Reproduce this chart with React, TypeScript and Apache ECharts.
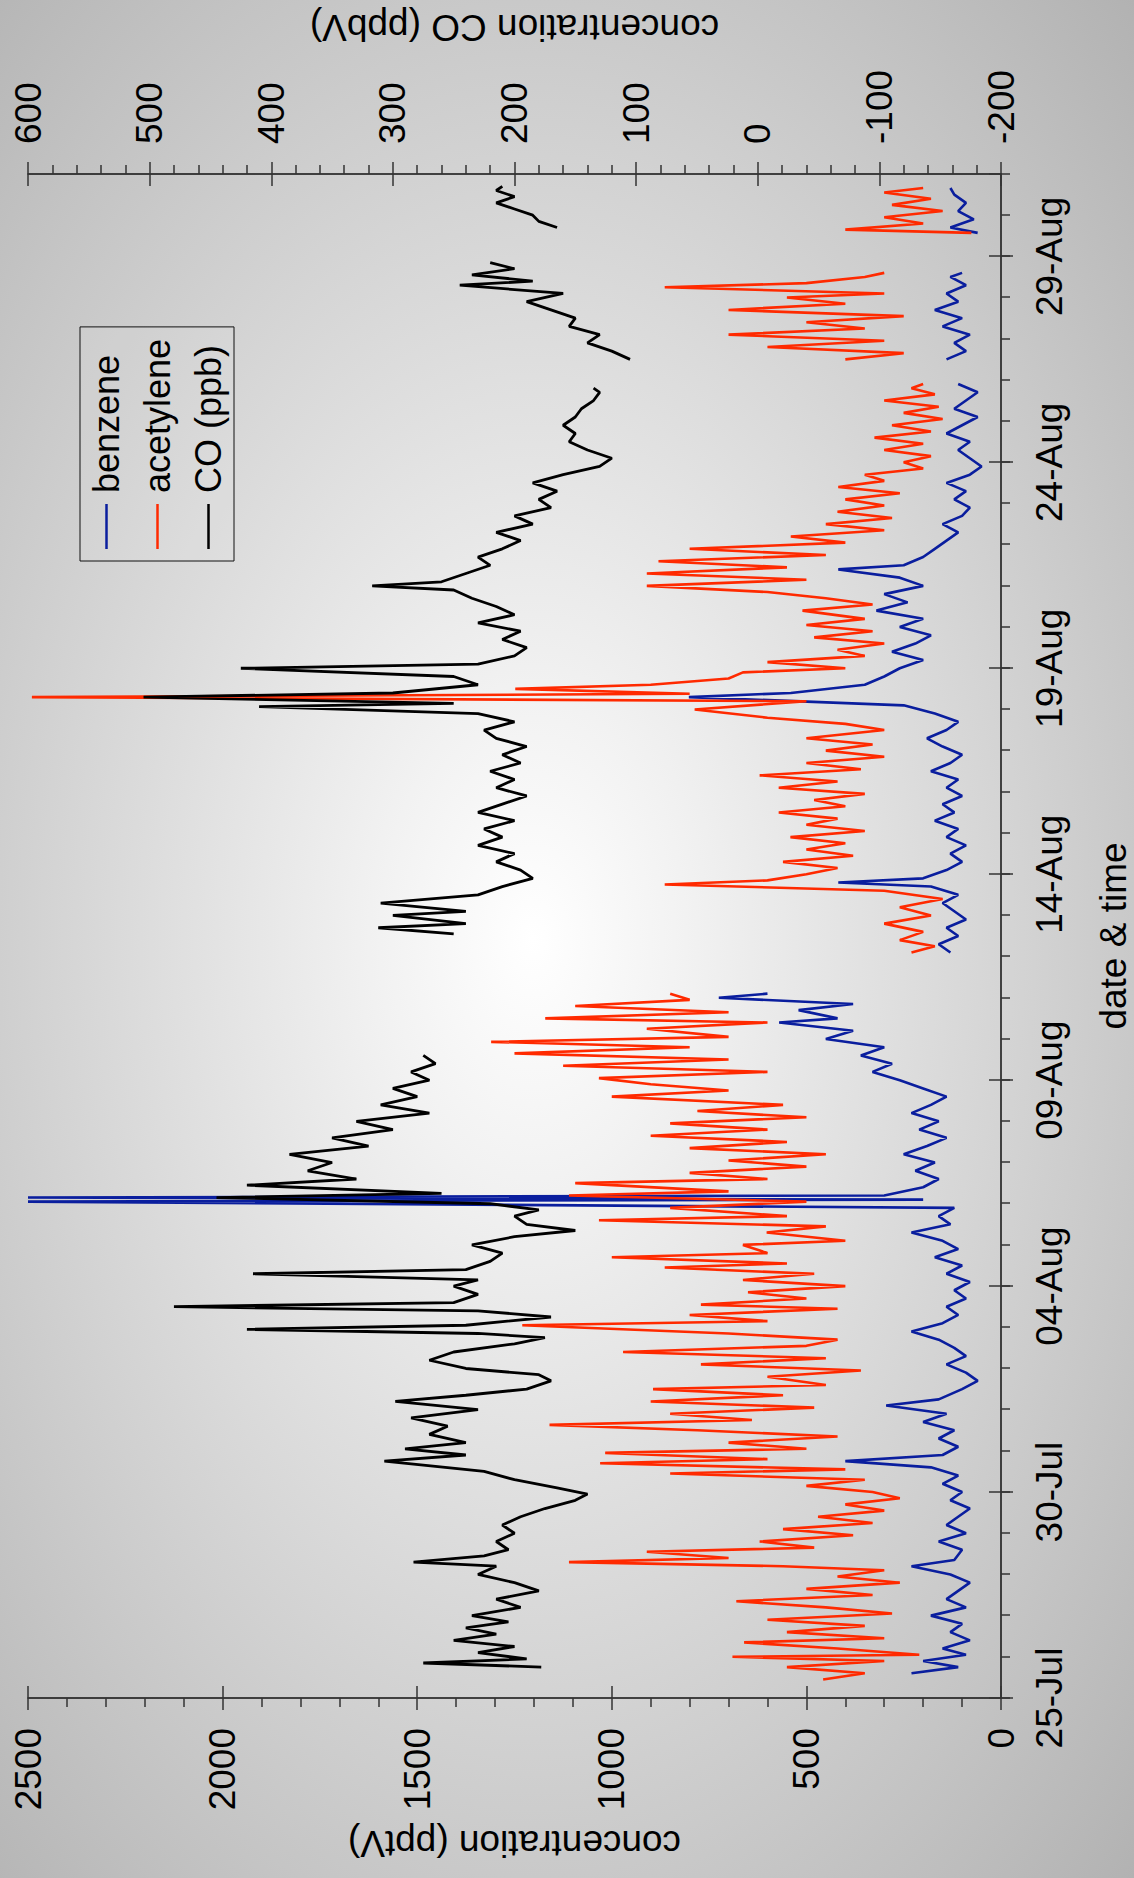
import React, { useEffect, useRef } from "react";
import * as echarts from "echarts";

// x values are days since 25-Jul 00:00
const dateLabels = ["25-Jul", "30-Jul", "04-Aug", "09-Aug", "14-Aug", "19-Aug", "24-Aug", "29-Aug"];
const seriesNames = ["benzene", "acetylene", "CO (ppb)"];

const benzene: [number, number | null][] = [
  [0.6, 230], [0.75, 110], [0.9, 200], [1.05, 90], [1.2, 150], [1.4, 80], [1.6, 130], [1.8, 100], [2.0, 180], [2.2, 90],
  [2.4, 140], [2.6, 110], [2.8, 80], [3.0, 130], [3.2, 230], [3.35, 120], [3.6, 100], [3.8, 160], [4.0, 90], [4.2, 140],
  [4.4, 110], [4.6, 80], [4.8, 130], [5.0, 100], [5.2, 150], [5.4, 110], [5.6, 180], [5.75, 400], [5.9, 150], [6.1, 110],
  [6.3, 160], [6.5, 120], [6.7, 200], [6.9, 140], [7.1, 295], [7.25, 160], [7.5, 100], [7.7, 60], [7.9, 90], [8.1, 140],
  [8.3, 90], [8.5, 120], [8.7, 160], [8.9, 230], [9.1, 150], [9.3, 110], [9.5, 140], [9.7, 90], [9.9, 120], [10.1, 80],
  [10.3, 140], [10.5, 100], [10.7, 170], [10.9, 110], [11.1, 150], [11.3, 230], [11.5, 130], [11.7, 160], [11.9, 120],
  [12.05, 2500], [12.1, 200], [12.15, 2500], [12.2, 300], [12.4, 200], [12.6, 160], [12.8, 220], [13.0, 170], [13.2, 250],
  [13.4, 190], [13.6, 140], [13.8, 210], [14.0, 160], [14.2, 230], [14.4, 180], [14.6, 140], [14.8, 200], [15.0, 260],
  [15.2, 330], [15.4, 280], [15.6, 360], [15.8, 300], [16.0, 450], [16.2, 380], [16.4, 570], [16.5, 420], [16.7, 520],
  [16.85, 380], [17.0, 725], [17.1, 600],
  [17.6, null],
  [18.1, 130], [18.3, 160], [18.5, 110], [18.7, 140], [18.9, 90], [19.1, 120], [19.3, 150], [19.5, 110], [19.7, 180],
  [19.8, 418], [19.9, 200], [20.1, 140], [20.3, 100], [20.5, 130], [20.7, 90], [20.9, 140], [21.1, 110], [21.3, 170],
  [21.5, 120], [21.7, 150], [21.9, 100], [22.1, 140], [22.3, 110], [22.5, 180], [22.7, 130], [22.9, 100], [23.1, 150],
  [23.3, 190], [23.5, 140], [23.7, 110], [23.9, 170], [24.1, 250], [24.3, 802], [24.4, 540], [24.6, 350], [24.8, 300],
  [25.0, 260], [25.2, 200], [25.4, 280], [25.6, 220], [25.8, 180], [26.0, 260], [26.2, 200], [26.4, 320], [26.6, 240],
  [26.8, 300], [27.0, 200], [27.2, 260], [27.4, 418], [27.5, 250], [27.7, 200], [27.9, 170], [28.1, 140], [28.3, 110],
  [28.5, 150], [28.7, 100], [28.9, 80], [29.1, 120], [29.3, 90], [29.5, 140], [29.7, 80], [29.9, 50], [30.1, 80],
  [30.3, 110], [30.5, 80], [30.7, 140], [30.9, 100], [31.1, 60], [31.3, 120], [31.5, 90], [31.7, 60], [31.9, 110],
  [32.2, null],
  [32.5, 140], [32.7, 90], [32.9, 120], [33.1, 80], [33.3, 150], [33.5, 100], [33.7, 170], [33.9, 110], [34.1, 140],
  [34.3, 90], [34.5, 130], [34.6, 100],
  [35.0, null],
  [35.57, 60], [35.7, 130], [35.9, 70], [36.1, 110], [36.3, 90], [36.5, 120], [36.66, 130],
];

const acetylene: [number, number | null][] = [
  [0.45, 457], [0.6, 350], [0.75, 550], [0.9, 300], [1.0, 690], [1.05, 210], [1.2, 420], [1.35, 660], [1.45, 300],
  [1.6, 550], [1.75, 350], [1.9, 600], [2.05, 280], [2.2, 450], [2.35, 680], [2.5, 330], [2.65, 500], [2.8, 260],
  [2.95, 420], [3.1, 300], [3.2, 560], [3.3, 1110], [3.4, 700], [3.55, 910], [3.65, 480], [3.8, 620], [3.95, 380],
  [4.1, 560], [4.25, 330], [4.4, 470], [4.55, 300], [4.7, 400], [4.85, 260], [5.0, 330], [5.15, 500], [5.3, 350],
  [5.45, 850], [5.55, 400], [5.7, 1030], [5.8, 600], [5.95, 1017], [6.05, 500], [6.2, 700], [6.35, 420], [6.5, 780],
  [6.63, 1160], [6.75, 640], [6.9, 850], [7.05, 480], [7.2, 900], [7.35, 560], [7.5, 894], [7.6, 450], [7.8, 600],
  [7.95, 360], [8.1, 771], [8.25, 450], [8.4, 971], [8.55, 500], [8.7, 420], [8.85, 700], [9.05, 1230], [9.15, 600],
  [9.3, 800], [9.45, 420], [9.55, 771], [9.7, 500], [9.85, 650], [10.0, 400], [10.15, 663], [10.3, 480], [10.45, 864],
  [10.55, 550], [10.7, 1000], [10.8, 600], [11.0, 663], [11.1, 400], [11.3, 602], [11.45, 450], [11.6, 1033], [11.7, 550],
  [11.9, 850], [12.05, 500], [12.2, 1110], [12.3, 700], [12.5, 1094], [12.6, 600], [12.75, 800], [12.9, 500], [13.05, 700],
  [13.2, 450], [13.35, 800], [13.5, 550], [13.65, 900], [13.8, 600], [13.95, 850], [14.1, 500], [14.25, 780], [14.4, 560],
  [14.6, 1000], [14.75, 700], [14.9, 900], [15.05, 1033], [15.2, 600], [15.35, 1125], [15.5, 700], [15.65, 1250],
  [15.8, 800], [15.93, 1310], [16.05, 700], [16.25, 910], [16.4, 600], [16.5, 1171], [16.65, 700], [16.8, 1094],
  [16.95, 800], [17.1, 850],
  [17.6, null],
  [18.1, 230], [18.25, 170], [18.4, 260], [18.6, 200], [18.8, 300], [19.0, 180], [19.2, 260], [19.4, 150], [19.6, 300],
  [19.75, 864], [19.85, 600], [20.0, 500], [20.15, 420], [20.3, 560], [20.45, 380], [20.6, 500], [20.75, 400], [20.9, 541],
  [21.05, 350], [21.2, 500], [21.35, 420], [21.5, 571], [21.65, 400], [21.8, 480], [21.95, 350], [22.1, 571], [22.25, 420],
  [22.4, 620], [22.55, 360], [22.7, 500], [22.85, 300], [23.0, 450], [23.15, 330], [23.3, 500], [23.5, 300], [23.65, 400],
  [23.8, 600], [24.0, 787], [24.2, 500], [24.3, 2490], [24.38, 800], [24.5, 1248], [24.6, 900], [24.75, 700], [24.9, 663],
  [25.0, 400], [25.15, 600], [25.3, 350], [25.45, 420], [25.6, 300], [25.75, 480], [25.9, 330], [26.05, 500], [26.2, 350],
  [26.4, 510], [26.55, 330], [26.7, 450], [26.85, 600], [27.0, 910], [27.15, 500], [27.3, 910], [27.45, 550], [27.6, 880],
  [27.75, 450], [27.9, 800], [28.05, 400], [28.2, 540], [28.35, 300], [28.5, 450], [28.65, 280], [28.8, 420], [28.95, 300],
  [29.1, 400], [29.25, 260], [29.4, 418], [29.55, 300], [29.7, 350], [29.85, 200], [30.0, 250], [30.15, 180], [30.3, 300],
  [30.45, 200], [30.6, 325], [30.75, 180], [30.9, 280], [31.05, 150], [31.2, 250], [31.35, 160], [31.5, 300], [31.65, 170],
  [31.8, 230], [31.9, 200],
  [32.2, null],
  [32.5, 400], [32.65, 250], [32.8, 600], [32.95, 300], [33.1, 700], [33.25, 350], [33.4, 500], [33.55, 250], [33.7, 700],
  [33.85, 400], [34.0, 550], [34.1, 300], [34.25, 864], [34.35, 500], [34.5, 350], [34.6, 300],
  [35.0, null],
  [35.57, 76], [35.65, 400], [35.8, 200], [35.95, 300], [36.1, 150], [36.25, 280], [36.4, 180], [36.55, 300], [36.66, 200],
];

const carbonMonoxide: [number, number | null][] = [
  [0.75, 178], [0.85, 275], [0.95, 190], [1.1, 230], [1.25, 200], [1.4, 250], [1.55, 215], [1.7, 240], [1.85, 205],
  [2.0, 235], [2.2, 195], [2.4, 215], [2.6, 180], [2.8, 200], [3.0, 230], [3.2, 215], [3.3, 283], [3.45, 225], [3.6, 205],
  [3.8, 215], [4.0, 200], [4.2, 210], [4.4, 195], [4.6, 175], [4.8, 150], [4.95, 140], [5.1, 165], [5.3, 200], [5.5, 225],
  [5.75, 307], [5.9, 240], [6.05, 290], [6.2, 240], [6.4, 270], [6.6, 255], [6.8, 285], [7.0, 230], [7.2, 298], [7.35, 240],
  [7.5, 190], [7.7, 170], [7.85, 180], [8.0, 240], [8.2, 270], [8.4, 250], [8.6, 200], [8.75, 175], [8.85, 230],
  [8.95, 420], [9.05, 240], [9.25, 170], [9.4, 230], [9.5, 480], [9.6, 250], [9.8, 230], [10.0, 250], [10.15, 230],
  [10.3, 415], [10.4, 240], [10.6, 220], [10.8, 210], [11.0, 235], [11.2, 200], [11.35, 150], [11.5, 190], [11.7, 200],
  [11.85, 180], [12.0, 220], [12.15, 445], [12.25, 260], [12.45, 420], [12.6, 330],
  [12.8, 370], [13.0, 350], [13.2, 385], [13.4, 320], [13.6, 350], [13.8, 300], [14.0, 330], [14.2, 270], [14.4, 310],
  [14.6, 280], [14.8, 300], [15.0, 270], [15.2, 285], [15.4, 265], [15.6, 275],
  [17.0, null],
  [18.55, 250], [18.7, 312], [18.8, 240], [19.0, 300], [19.1, 240], [19.3, 310], [19.5, 230], [19.7, 210], [19.9, 185],
  [20.1, 195], [20.3, 215], [20.5, 200], [20.7, 230], [20.9, 210], [21.1, 225], [21.3, 200], [21.5, 230], [21.7, 210],
  [21.9, 190], [22.1, 215], [22.3, 200], [22.5, 220], [22.7, 195], [22.9, 210], [23.1, 190], [23.3, 215], [23.5, 225],
  [23.7, 200], [23.9, 230], [24.07, 410], [24.15, 250], [24.3, 505], [24.4, 300], [24.6, 230], [24.8, 250], [25.0, 425],
  [25.1, 230], [25.3, 200], [25.5, 190], [25.7, 210], [25.9, 195], [26.1, 230], [26.3, 200], [26.5, 215], [26.7, 235],
  [26.9, 250], [27.0, 317], [27.1, 260], [27.3, 240], [27.5, 220], [27.7, 230], [27.9, 210], [28.1, 195], [28.3, 215],
  [28.5, 185], [28.7, 200], [28.9, 170], [29.1, 180], [29.3, 165], [29.5, 185], [29.7, 160], [29.9, 130], [30.1, 120],
  [30.3, 140], [30.5, 155], [30.7, 150], [30.9, 160], [31.1, 150], [31.3, 145], [31.5, 135], [31.7, 130], [31.8, 135],
  [32.1, null],
  [32.5, 105], [32.7, 120], [32.9, 140], [33.1, 130], [33.3, 155], [33.5, 150], [33.7, 170], [33.9, 190], [34.1, 160],
  [34.3, 245], [34.4, 185], [34.55, 235], [34.7, 200], [34.85, 220],
  [35.2, null],
  [35.7, 165], [35.85, 180], [36.0, 185], [36.15, 200], [36.3, 215], [36.45, 200], [36.6, 215], [36.7, 210],
];

const FONT = "'Liberation Sans', Arial, Helvetica, sans-serif";
const BLUE = "#0a1e9e";
const RED = "#ff2a00";
const BLACK = "#000000";
const axisLineStyle = { color: "#111", width: 1.5 };
const tickStyle = { color: "#333", width: 1.5 };
const labelStyle = { fontSize: 37, color: "#000", fontFamily: FONT };
const plainNumber = (v: number) => String(v);

function dupAxis(extra: any) {
  return {
    type: "value",
    axisLine: { show: false, onZero: false },
    axisLabel: { show: false },
    splitLine: { show: false },
    ...extra,
  };
}

function buildOption(): any {
  return {
    animation: false,
    backgroundColor: "transparent",
    textStyle: { fontFamily: FONT },
    grid: { left: 180, top: 28, width: 1524, height: 973, containLabel: false, outerBoundsMode: "none" },
    legend: {
      orient: "vertical",
      left: 1317,
      top: 80,
      data: seriesNames,
      icon: "rect",
      itemWidth: 45,
      itemHeight: 2.5,
      itemGap: 0,
      padding: [1, 12, 0, 12],
      borderColor: "#111",
      borderWidth: 1,
      backgroundColor: "rgba(255,255,255,0.08)",
      textStyle: { fontSize: 36, color: "#000", fontFamily: FONT, lineHeight: 51, padding: [0, 0, 0, 6] },
    },
    xAxis: [
      {
        type: "value",
        position: "bottom",
        min: 0,
        max: 37,
        interval: 5,
        axisLine: { show: true, onZero: false, lineStyle: axisLineStyle },
        axisTick: { show: true, length: 12, lineStyle: tickStyle },
        axisLabel: {
          ...labelStyle,
          margin: 30,
          showMaxLabel: false,
          formatter: (v: number) => dateLabels[Math.round(v / 5)] ?? "",
        },
        splitLine: { show: false },
        name: "date & time",
        nameLocation: "middle",
        nameGap: 94,
        nameTextStyle: labelStyle,
      },
      dupAxis({ position: "bottom", min: 0, max: 37, interval: 5, axisTick: { show: true, inside: true, length: 12, lineStyle: tickStyle } }),
      dupAxis({ position: "bottom", min: 0, max: 37, interval: 1, axisTick: { show: true, length: 9, lineStyle: tickStyle } }),
    ],
    yAxis: [
      {
        type: "value",
        position: "left",
        min: 0,
        max: 2500,
        interval: 500,
        axisLine: { show: true, onZero: false, lineStyle: axisLineStyle },
        axisTick: { show: true, length: 12, lineStyle: tickStyle },
        minorTick: { show: true, splitNumber: 5, length: 9, lineStyle: tickStyle },
        axisLabel: { ...labelStyle, margin: 30, formatter: plainNumber },
        splitLine: { show: false },
        minorSplitLine: { show: false },
        name: "concentration (pptV)",
        nameLocation: "middle",
        nameRotate: 90,
        nameGap: 127,
        nameTextStyle: labelStyle,
      },
      {
        type: "value",
        position: "right",
        min: -200,
        max: 600,
        interval: 100,
        axisLine: { show: true, onZero: false, lineStyle: axisLineStyle },
        axisTick: { show: true, length: 12, lineStyle: tickStyle },
        minorTick: { show: true, splitNumber: 5, length: 9, lineStyle: tickStyle },
        axisLabel: { ...labelStyle, margin: 30, formatter: plainNumber },
        splitLine: { show: false },
        minorSplitLine: { show: false },
        name: "concentration CO (ppbV)",
        nameLocation: "middle",
        nameRotate: 90,
        nameGap: 128,
        nameTextStyle: labelStyle,
      },
      dupAxis({ position: "left", min: 0, max: 2500, interval: 500, axisTick: { show: true, inside: true, length: 12, lineStyle: tickStyle } }),
      dupAxis({ position: "right", min: -200, max: 600, interval: 100, axisTick: { show: true, inside: true, length: 12, lineStyle: tickStyle } }),
    ],
    series: [
      {
        name: seriesNames[0],
        type: "line",
        xAxisIndex: 0,
        yAxisIndex: 0,
        data: benzene,
        symbol: "none",
        showSymbol: false,
        connectNulls: false,
        lineStyle: { color: BLUE, width: 2.6 },
        itemStyle: { color: BLUE },
      },
      {
        name: seriesNames[1],
        type: "line",
        xAxisIndex: 0,
        yAxisIndex: 0,
        data: acetylene,
        symbol: "none",
        showSymbol: false,
        connectNulls: false,
        lineStyle: { color: RED, width: 2.6 },
        itemStyle: { color: RED },
      },
      {
        name: seriesNames[2],
        type: "line",
        xAxisIndex: 0,
        yAxisIndex: 1,
        data: carbonMonoxide,
        symbol: "none",
        showSymbol: false,
        connectNulls: false,
        lineStyle: { color: BLACK, width: 2.8 },
        itemStyle: { color: BLACK },
      },
    ],
  };
}

export default function App() {
  const ref = useRef<HTMLDivElement>(null);
  useEffect(() => {
    if (!ref.current) return;
    const chart = echarts.init(ref.current, null, { renderer: "svg", width: 1878, height: 1134 });
    chart.setOption(buildOption());
    return () => chart.dispose();
  }, []);
  return (
    <div
      style={{
        position: "absolute",
        left: 0,
        top: 0,
        width: 1134,
        height: 1878,
        overflow: "hidden",
        background: "radial-gradient(ellipse farthest-corner at 47% 50%, #ffffff 0%, #f2f2f2 18%, #b2b2b2 100%)",
      }}
    >
      <div
        ref={ref}
        style={{
          position: "absolute",
          left: 0,
          top: 0,
          width: 1878,
          height: 1134,
          transform: "translateY(1878px) rotate(-90deg)",
          transformOrigin: "0 0",
        }}
      />
    </div>
  );
}
